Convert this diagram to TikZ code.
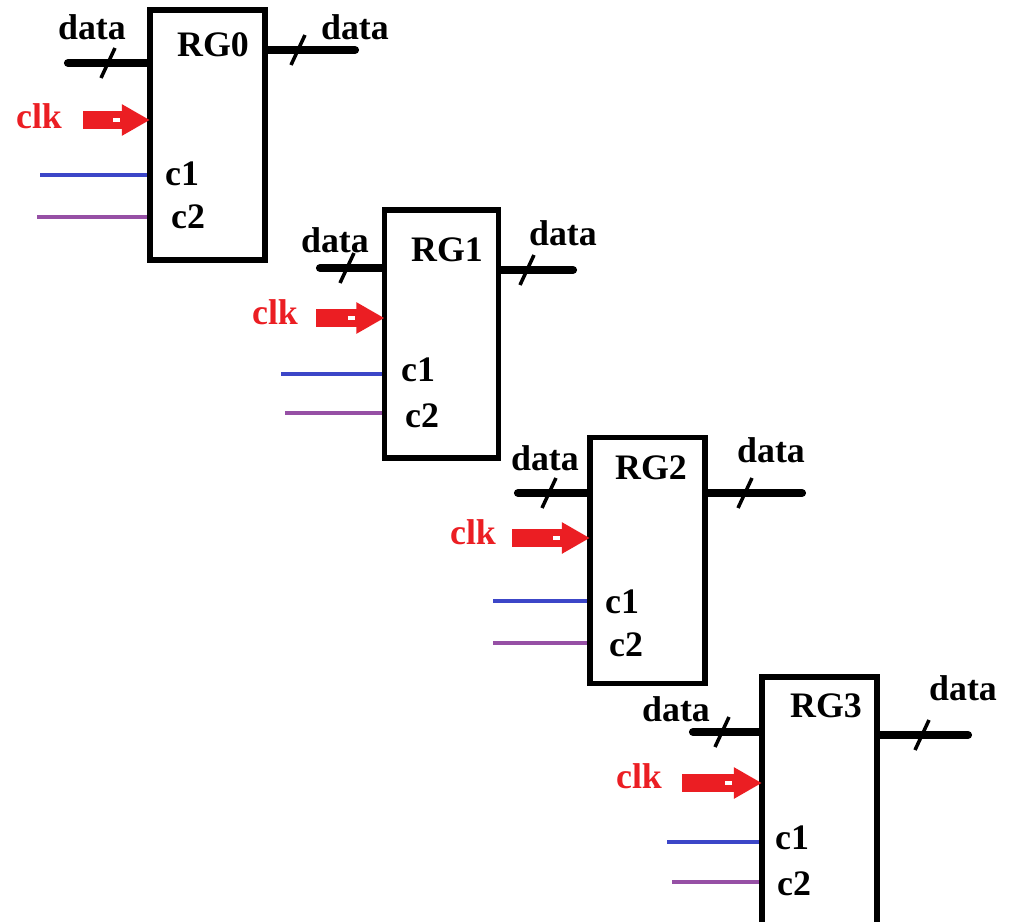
\documentclass[tikz,border=0pt]{standalone}
\usepackage{fontspec}
\setmainfont{Liberation Serif}
\usetikzlibrary{arrows.meta}
\definecolor{cblue}{RGB}{60,70,200}
\definecolor{cpurple}{RGB}{150,80,165}
\definecolor{clkred}{RGB}{235,30,35}
\tikzset{
  reg/.style={draw, line width=4pt, minimum width=2.875cm, inner sep=0pt},
  bus/.style={line width=5.8pt, line cap=round},
  tick/.style={line width=2.5pt},
  clkarrow/.style={clkred, line width=12.5pt, -{Triangle[length=20pt,width=21pt]}},
  ctlone/.style={cblue, line width=2.8pt},
  ctltwo/.style={cpurple, line width=2.8pt},
  lbl/.style={font=\bfseries\fontsize{25.5}{29}\selectfont, inner sep=0pt},
  clklbl/.style={lbl, text=clkred}
}

\begin{document}
\begin{tikzpicture}[x=0.025cm, y=-0.025cm]
	\useasboundingbox (0,0) rectangle (1015,922);
	% registers
	\node[reg, minimum height=6.25cm] (rg0) at (207.5,135) {};
	\node[reg, minimum width=2.85cm, minimum height=6.2cm] (rg1) at (441.5,334) {};
	\node[reg, minimum height=6.15cm] (rg2) at (647.5,560.5) {};
	\node[reg, minimum height=6.6cm] (rg3) at (819.5,809) {};
	% free ends
	\coordinate (in0) at (68,63);    \coordinate (out0) at (355,50);
	\coordinate (in1) at (320,268);  \coordinate (out1) at (573,270);
	\coordinate (in2) at (518,493);  \coordinate (out2) at (802,493);
	\coordinate (in3) at (693,732);  \coordinate (out3) at (968,735);
	\coordinate (clk0) at (83,120);  \coordinate (clk1) at (316,318);
	\coordinate (clk2) at (512,538); \coordinate (clk3) at (682,783);
	\coordinate (ca0) at (40,175);   \coordinate (cb0) at (37,217);
	\coordinate (ca1) at (281,374);  \coordinate (cb1) at (285,413);
	\coordinate (ca2) at (493,601);  \coordinate (cb2) at (493,643);
	\coordinate (ca3) at (667,842);  \coordinate (cb3) at (672,882);
	% slash marks on the buses
	\coordinate (t0) at (108,63);  \coordinate (u0) at (298,50);
	\coordinate (t1) at (347,268); \coordinate (u1) at (527,270);
	\coordinate (t2) at (549,493); \coordinate (u2) at (745,493);
	\coordinate (t3) at (722,732); \coordinate (u3) at (922,735);
	\foreach \r in {0,1,2,3} {
		\draw[bus] (in\r) -- (in\r -| rg\r.west);
		\draw[bus] (out\r -| rg\r.east) -- (out\r);
		\draw[tick] ([shift={(-7,15)}]t\r) -- ([shift={(7,-15)}]t\r);
		\draw[tick] ([shift={(-7,15)}]u\r) -- ([shift={(7,-15)}]u\r);
		\draw[clkarrow] (clk\r) -- ([xshift=2pt]clk\r -| rg\r.west);
		\draw[white, line width=2.5pt] ([xshift=-24pt]clk\r -| rg\r.west) -- ([xshift=-19pt]clk\r -| rg\r.west);
		\draw[ctlone] (ca\r) -- (ca\r -| rg\r.west);
		\draw[ctltwo] (cb\r) -- (cb\r -| rg\r.west);
	}
	% labels
	\node[lbl] (n0) at (213,45) {RG0};
	\node[lbl] (n1) at (447,250) {RG1};
	\node[lbl] (n2) at (651,468) {RG2};
	\node[lbl] (n3) at (826,706) {RG3};
	\node[lbl] (di0) at (92,27) {data};   \node[lbl] (do0) at (355,27) {data};
	\node[lbl] (di1) at (335,240) {data}; \node[lbl] (do1) at (563,233) {data};
	\node[lbl] (di2) at (545,458) {data}; \node[lbl] (do2) at (771,450) {data};
	\node[lbl] (di3) at (676,709) {data}; \node[lbl] (do3) at (963,688) {data};
	\node[clklbl] (k0) at (39,116) {clk};
	\node[clklbl] (k1) at (275,312) {clk};
	\node[clklbl] (k2) at (473,532) {clk};
	\node[clklbl] (k3) at (639,776) {clk};
	\node[lbl] (a0) at (182,174) {c1};  \node[lbl] (b0) at (188,217) {c2};
	\node[lbl] (a1) at (418,370) {c1};  \node[lbl] (b1) at (422,416) {c2};
	\node[lbl] (a2) at (622,602) {c1};  \node[lbl] (b2) at (626,645) {c2};
	\node[lbl] (a3) at (792,838) {c1};  \node[lbl] (b3) at (794,884) {c2};
\end{tikzpicture}
\end{document}
